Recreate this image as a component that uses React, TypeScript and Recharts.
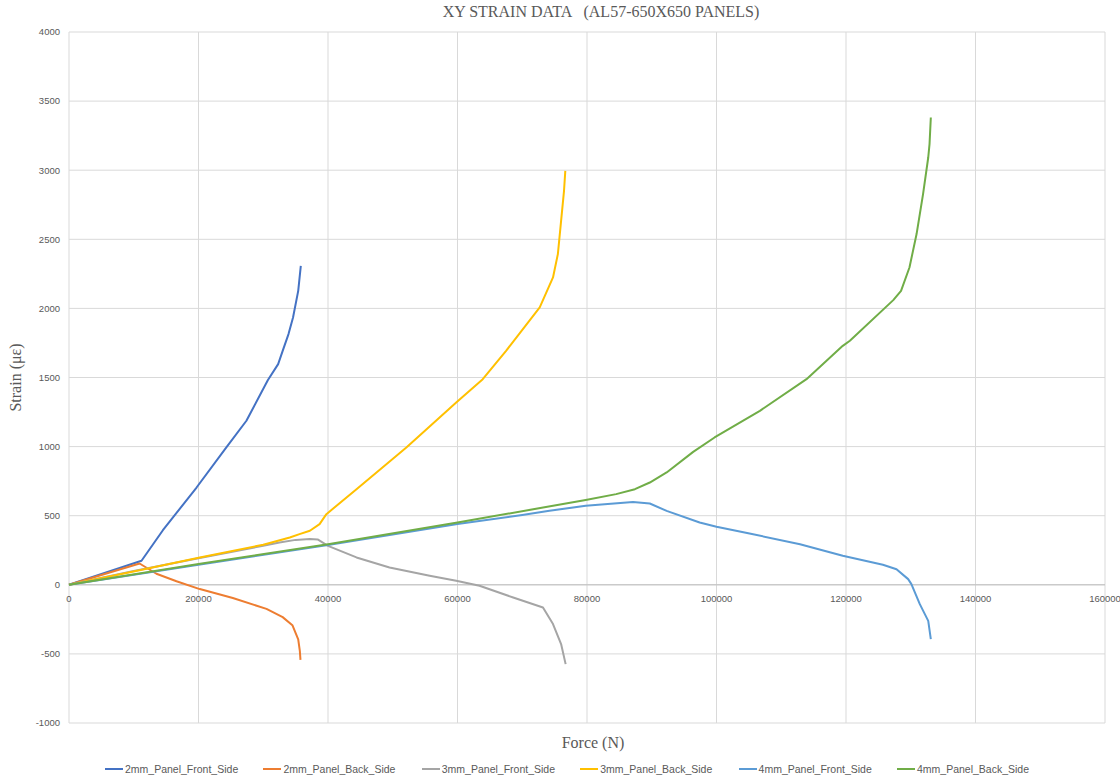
import React from "react";
import { CartesianGrid, Legend, Line, LineChart, ReferenceLine, XAxis, YAxis } from "recharts";

// [force (N), strain (µε)]
const panel2Front: [number, number][] = [
	[0, 0], [11200, 174], [14500, 395], [19700, 704], [24300, 994], [27400, 1187],
	[30700, 1480], [32300, 1597], [33000, 1693], [33900, 1814], [34600, 1934], [35400, 2127],
	[35800, 2308],
];
const panel2Back: [number, number][] = [
	[0, 0], [10900, 154], [13500, 80], [16600, 26], [20200, -31], [25300, -96],
	[30500, -174], [33000, -234], [34500, -292], [35400, -395], [35650, -478], [35750, -543],
];
const panel3Front: [number, number][] = [
	[0, 0], [10000, 100], [20000, 192], [30000, 282], [32500, 306], [35000, 325], [37200, 331],
	[38400, 328], [40000, 282], [44400, 198], [49500, 125], [55700, 65], [59800, 29],
	[63400, -7], [68600, -92], [73200, -164], [74750, -284], [76000, -429], [76700, -574],
];
const panel3Back: [number, number][] = [
	[0, 0], [10900, 106], [20200, 198], [30000, 290], [34100, 342], [35600, 367], [37200, 391],
	[38700, 439], [39750, 511], [44400, 692], [52100, 994], [59800, 1319], [63900, 1488],
	[67500, 1693], [72700, 2007], [74750, 2224], [75500, 2393], [76000, 2634], [76450, 2851],
	[76650, 2995],
];
const panel4Front: [number, number][] = [
	[0, 0], [20000, 145], [40000, 288], [60000, 440], [70000, 505], [74200, 535], [79800, 572],
	[87100, 600], [89700, 588], [92300, 535], [97400, 451], [100000, 420], [105100, 371],
	[112900, 294], [119500, 210], [125700, 145], [127800, 113], [129600, 41], [130100, 5],
	[131400, -140], [132700, -261], [133100, -393],
];
const panel4Back: [number, number][] = [
	[0, 0], [20000, 150], [40000, 294], [60000, 451], [79800, 613], [84500, 656], [87400, 692],
	[89700, 740], [92300, 813], [96400, 962], [99700, 1066], [106700, 1259], [113900, 1488],
	[119500, 1729], [120600, 1766], [127300, 2060], [128500, 2127], [129800, 2296],
	[130900, 2538], [131900, 2827], [132700, 3092], [132900, 3189], [133100, 3381],
];

const seriesNames = [
	"2mm_Panel_Front_Side",
	"2mm_Panel_Back_Side",
	"3mm_Panel_Front_Side",
	"3mm_Panel_Back_Side",
	"4mm_Panel_Front_Side",
	"4mm_Panel_Back_Side",
];
const seriesColors = ["#4472C4", "#ED7D31", "#A5A5A5", "#FFC000", "#5B9BD5", "#70AD47"];
const seriesData = [panel2Front, panel2Back, panel3Front, panel3Back, panel4Front, panel4Back];

const forceTicks = [0, 20000, 40000, 60000, 80000, 100000, 120000, 140000, 160000];
const strainTicks = [-1000, -500, 0, 500, 1000, 1500, 2000, 2500, 3000, 3500, 4000];

const W = 1120;
const H = 778;
const TOP = 32;
const LEGEND_H = 18;
const XAXIS_H = 37;
const PLOT_H = H - TOP - LEGEND_H - XAXIS_H;
const Y_MIN = strainTicks[0];
const Y_MAX = strainTicks[strainTicks.length - 1];
// excel puts the force labels on the zero line, not the bottom of the plot
const ZERO_SHIFT = (PLOT_H * (0 - Y_MIN)) / (Y_MAX - Y_MIN);

const sans = "'Liberation Sans', Arial, sans-serif";
const serif = "'Liberation Serif', 'Times New Roman', serif";
const grey = "#595959";

const toPoints = (pairs: [number, number][]) => pairs.map(([f, s]) => ({ f, s }));

const ForceTick = (props: any) => {
	const { x, y, payload } = props;
	return (
		<text x={x} y={y - ZERO_SHIFT} dy="0.71em" textAnchor="middle" fill={grey} fontSize={9.5} fontFamily={sans}>
			{payload.value}
		</text>
	);
};

// legend keeps the series order (recharts would sort it by name)
const LegendRow = () => (
	<div style={{ display: "flex", paddingLeft: 105, height: LEGEND_H, alignItems: "center" }}>
		{seriesNames.map((name, i) => (
			<div key={name} style={{ width: 158.4, display: "flex", alignItems: "center" }}>
				<span style={{ display: "inline-block", width: 18, height: 2, background: seriesColors[i], marginRight: 2 }} />
				<span style={{ fontSize: 10.5, color: grey, fontFamily: sans }}>{name}</span>
			</div>
		))}
	</div>
);

export default function App() {
	return (
		<div style={{ position: "absolute", left: 0, top: 0, width: W, height: H, background: "#fff" }}>
			<div
				style={{
					position: "absolute",
					left: 601,
					top: 3,
					transform: "translateX(-50%)",
					whiteSpace: "pre",
					fontFamily: serif,
					fontSize: 16,
					color: grey,
					zIndex: 1,
				}}>
				{"XY STRAIN DATA   (AL57-650X650 PANELS)"}
			</div>
			<LineChart width={W} height={H} margin={{ top: TOP, right: 15, bottom: 0, left: 0 }}>
				<CartesianGrid stroke="#d9d9d9" strokeWidth={1} />
				<XAxis
					type="number"
					dataKey="f"
					domain={[0, 160000]}
					ticks={forceTicks}
					height={XAXIS_H}
					axisLine={false}
					tickLine={false}
					tickMargin={4}
					tick={<ForceTick />}
					interval={0}
					label={{
						value: "Force (N)",
						position: "insideTop",
						offset: 14,
						dx: 6,
						style: { fontFamily: serif, fontSize: 16, fill: grey },
					}}
				/>
				<YAxis
					type="number"
					domain={[Y_MIN, Y_MAX]}
					ticks={strainTicks}
					width={69}
					axisLine={false}
					tickLine={false}
					tickMargin={3}
					interval={0}
					tick={{ fill: grey, fontSize: 9.5, fontFamily: sans }}
					label={{
						value: "Strain (\u03bc\u03b5)",
						angle: -90,
						position: "insideLeft",
						offset: 15,
						style: { textAnchor: "middle", fontFamily: serif, fontSize: 16, fill: grey },
					}}
				/>
				<ReferenceLine y={0} stroke="#bfbfbf" strokeWidth={1} />
				{seriesData.map((pairs, i) => (
					<Line
						key={seriesNames[i]}
						name={seriesNames[i]}
						data={toPoints(pairs)}
						dataKey="s"
						type="linear"
						stroke={seriesColors[i]}
						strokeWidth={2}
						strokeLinejoin="round"
						dot={false}
						activeDot={false}
						isAnimationActive={false}
					/>
				))}
				<Legend verticalAlign="bottom" height={LEGEND_H} content={<LegendRow />} />
			</LineChart>
		</div>
	);
}
